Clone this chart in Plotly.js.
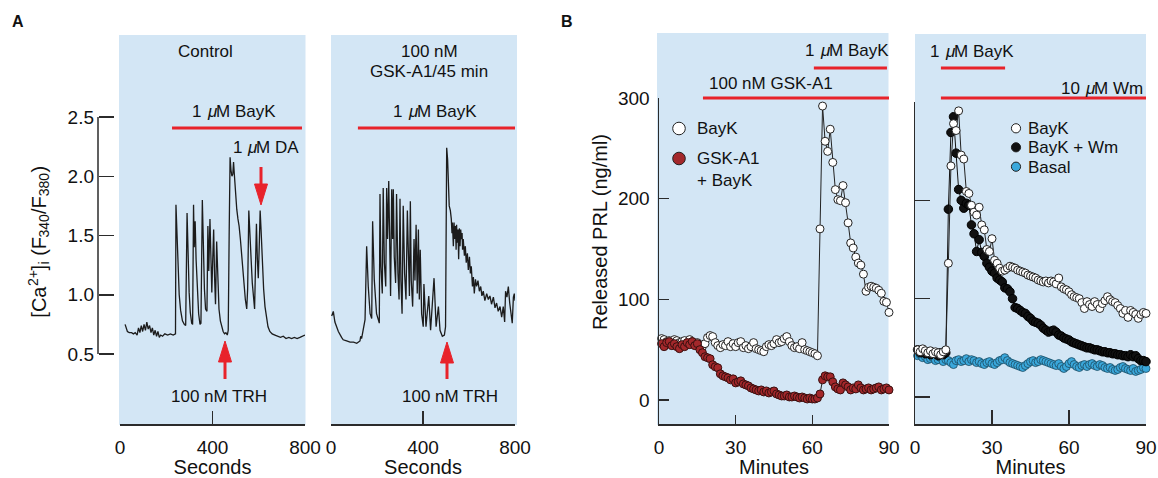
<!DOCTYPE html>
<html><head><meta charset="utf-8">
<script src="https://cdn.plot.ly/plotly-3.0.1.min.js"></script>
<style>html,body{margin:0;padding:0;background:#fff}#c{width:1158px;height:478px}</style>
</head><body><div id="c"></div>
<script>
// ---------- DATA ----------
// Panel A, Control: time (s) and [Ca2+]i ratio
const ctrlSec = [22,26,32,40,50,58,66,74,80,86,92,98,104,110,116,122,128,134,140,146,152,158,164,170,176,184,194,206,218,230,240,
242,246,250,256,262,270,278,284,290,294,299,304,310,314,318,321,325,329,334,340,346,350,356,360,365,370,
376,380,384,389,393,397,401,405,409,413,418,422,428,434,440,446,452,458,464,
468,472,476,480,484,488,491,495,500,505,510,515,521,528,535,542,548,
552,557,562,567,572,578,582,586,590,594,598,602,606,610,615,621,627,633,640,648,658,670,682,694,706,718,730,742,754,766,778,790,800];
const ctrlRatio = [0.75,0.72,0.69,0.68,0.68,0.67,0.68,0.66,0.72,0.68,0.74,0.69,0.75,0.70,0.77,0.71,0.74,0.68,0.72,0.66,0.70,0.65,0.69,0.64,0.66,0.65,0.67,0.66,0.67,0.66,0.67,
1.76,1.55,1.25,1.00,0.87,0.78,0.75,0.74,1.69,1.35,1.02,0.85,0.76,0.75,1.76,1.40,1.62,1.30,1.02,0.84,0.75,0.76,1.80,1.38,1.05,0.88,
0.86,1.58,1.20,1.64,1.25,1.02,1.30,1.55,1.15,0.92,1.45,1.12,0.88,0.78,0.72,0.69,0.67,0.68,0.66,
0.70,1.50,2.16,2.05,2.00,2.02,2.12,2.00,1.84,1.72,1.64,1.58,1.46,1.28,1.10,0.96,0.88,
1.05,1.71,1.55,1.30,1.10,0.95,0.88,1.25,1.60,1.30,1.14,1.40,1.71,1.55,1.30,1.05,0.90,0.80,0.73,0.69,0.67,0.66,0.65,0.64,0.65,0.63,0.64,0.63,0.64,0.63,0.64,0.65,0.66];

// Panel A, 100 nM GSK-A1/45 min
const gskSec = [3,10,17,32,46,53,68,83,98,112,126,129,133,139,148,
155,162,170,177,181,188,198,210,213,217,223,227,232,238,242,246,251,255,259,264,268,271,275,281,285,291,296,300,304,309,314,320,326,332,336,341,345,349,355,361,365,370,375,380,384,388,394,401,404,413,425,433,448,457,467,474,484,493,498,
503,507,512,514,519,523,526,528,532,535,538,541,544,546,549,552,555,558,561,564,567,570,572,575,580,584,588,593,597,602,606,610,615,619,623,628,633,639,645,651,656,662,669,677,684,691,698,706,713,720,727,735,742,749,755,759,765,771,777,783,788,793,797,800];
const gskRatio = [0.82,0.86,0.77,0.69,0.64,0.62,0.61,0.60,0.60,0.59,0.61,0.65,0.63,0.70,0.79,
1.41,1.07,0.84,0.80,1.62,1.13,0.84,0.76,1.85,1.24,1.01,1.90,1.27,1.07,1.90,1.47,1.96,1.38,0.99,1.89,1.47,1.89,1.32,1.10,1.85,1.18,0.96,1.81,1.12,0.84,1.75,1.18,0.96,1.71,1.24,0.99,1.79,1.12,0.90,1.47,1.12,1.59,1.01,1.55,0.96,1.38,0.84,0.73,1.09,0.73,0.99,0.70,1.14,0.73,0.90,0.70,0.65,0.66,0.73,
2.24,2.14,1.89,1.75,1.71,1.64,1.52,1.61,1.41,1.61,1.47,1.58,1.38,1.59,1.44,1.55,1.30,1.56,1.41,1.55,1.47,1.52,1.38,1.47,1.33,1.41,1.27,1.35,1.21,1.32,1.18,1.24,1.07,1.15,1.01,1.13,1.07,1.12,1.03,1.07,0.99,1.03,0.95,1.01,0.96,0.99,0.92,0.98,0.89,0.93,0.86,0.90,0.81,0.90,0.77,1.03,0.98,1.07,0.93,0.84,0.76,0.98,1.01,0.95];

// Panel B, left: released PRL (ng/ml) per minute
const minutesB = [1,2,3,4,5,6,7,8,9,10,11,12,13,14,15,16,17,18,19,20,21,22,23,24,25,26,27,28,29,30,31,32,33,34,35,36,37,38,39,40,41,42,43,44,45,46,47,48,49,50,51,52,53,54,55,56,57,58,59,60,61,62,63,64,65,66,67,68,69,70,71,72,73,74,75,76,77,78,79,80,81,82,83,84,85,86,87,88,89,90];
const baykL = [61,60,58,59,57,60,59,57,58,59,55,60,58,56,57,55,53,56,62,64,63,57,54,52,55,54,58,53,56,53,57,58,52,54,51,53,57,51,50,49,48,53,55,54,56,60,57,58,61,63,58,54,52,53,51,57,50,49,48,47,46,44,170,292,257,247,269,236,209,199,198,213,196,176,156,151,142,136,134,125,108,112,113,112,111,109,106,98,97,87];
const gskBaykL = [56,53,57,58,54,56,53,51,55,53,57,55,58,54,56,50,47,43,42,41,35,33,32,26,24,23,22,20,21,17,18,19,16,15,14,12,11,10,9,10,8,9,7,8,9,6,5,4,4,5,3,3,4,3,2,3,2,1,2,1,1,2,6,20,24,23,23,18,13,11,10,17,15,13,10,12,11,15,12,10,11,12,10,11,12,13,10,11,12,10];

// Panel B, right
const baykR = [48,46,49,47,45,47,44,46,45,43,46,48,136,235,278,271,291,246,242,209,207,195,188,185,193,175,170,150,148,161,139,136,131,128,129,131,133,132,131,129,128,127,126,124,123,122,121,119,118,117,118,116,118,117,115,121,112,110,109,107,104,102,101,100,96,90,97,94,92,97,94,90,95,98,102,99,97,96,93,90,85,88,81,88,86,84,80,84,86,85];
const baykWmR = [48,45,47,44,46,43,45,44,42,45,43,45,191,269,285,248,211,200,192,197,195,175,166,148,160,147,143,136,132,128,126,121,119,117,111,110,107,100,91,90,88,86,85,82,80,77,76,75,73,70,68,66,67,68,66,63,62,60,59,58,56,55,54,53,52,51,50,50,49,48,48,47,46,46,45,45,44,44,43,43,42,42,41,43,41,42,39,37,37,36];
const basalR = [42,43,40,41,38,39,40,37,38,40,36,38,37,35,33,37,38,36,37,39,36,38,37,35,36,34,33,35,36,34,33,35,37,38,40,37,35,34,33,32,31,30,32,34,36,37,35,36,38,37,36,35,34,33,32,34,31,29,31,34,36,33,31,30,32,33,31,33,34,32,31,33,32,30,29,30,28,27,28,30,31,29,28,27,29,26,27,28,30,29];

const ticksSec = [0,400,800];
const ticksRatio = [0.5,1.0,1.5,2.0,2.5];
const ticksMin = [0,30,60,90];
const ticksPRL = [0,100,200,300];

// ---------- LAYOUT HELPERS ----------
const W = 1158, H = 478;
const X = p => p / W;
const Y = p => 1 - p / H;
const FONT = 'Liberation Sans, Arial, Helvetica, sans-serif';
const INK = '#2b2b2b';
const BLUE_BG = '#d3e6f5';
const RED = '#e8232b';

const traceA = {color:'#1c1c1c', width:1.3};
const data = [
  {x: ctrlSec, y: ctrlRatio, xaxis:'x', yaxis:'y', mode:'lines', line: traceA, hoverinfo:'skip'},
  {x: gskSec, y: gskRatio, xaxis:'x2', yaxis:'y2', mode:'lines', line: traceA, hoverinfo:'skip'},
  {x: minutesB, y: baykL, xaxis:'x3', yaxis:'y3', mode:'lines+markers', cliponaxis:false,
   line:{color:'#222', width:1}, marker:{size:8, color:'#ffffff', line:{color:'#222', width:1}}},
  {x: minutesB, y: gskBaykL, xaxis:'x3', yaxis:'y3', mode:'lines+markers', cliponaxis:false,
   line:{color:'#222', width:1}, marker:{size:8, color:'#a3282b', line:{color:'#3a1010', width:1}}},
  {x: minutesB, y: basalR, xaxis:'x4', yaxis:'y4', mode:'lines+markers', cliponaxis:false,
   line:{color:'#222', width:0.8}, marker:{size:8, color:'#3aa8dc', line:{color:'#1d4a60', width:0.8}}},
  {x: minutesB, y: baykWmR, xaxis:'x4', yaxis:'y4', mode:'lines+markers', cliponaxis:false,
   line:{color:'#111', width:1}, marker:{size:8.5, color:'#111111', line:{color:'#000', width:1}}},
  {x: minutesB, y: baykR, xaxis:'x4', yaxis:'y4', mode:'lines+markers', cliponaxis:false,
   line:{color:'#222', width:1}, marker:{size:8, color:'#ffffff', line:{color:'#222', width:1}}}
];

const axBase = {
  showgrid:false, zeroline:false, ticks:'inside', tickcolor:INK, tickwidth:1.5,
  linecolor:INK, linewidth:1.5, tickfont:{family:FONT, size:19, color:'#111'}, fixedrange:true
};
const xTitle = t => ({text:t, font:{family:FONT, size:20, color:'#111'}, standoff:2});

const yA = [0.5 - 70/118.5, 0.5 + 319/118.5];

const layout = {
  width: W, height: H, margin:{l:0,r:0,t:0,b:0}, showlegend:false,
  paper_bgcolor:'#ffffff', plot_bgcolor:'rgba(0,0,0,0)', font:{family:FONT, color:'#111'},
  xaxis: Object.assign({}, axBase, {domain:[X(120), X(305)], range:[0,800], anchor:'y', tickvals:ticksSec,
          showline:true, ticklen:13, ticklabelstandoff:6, title:xTitle('Seconds')}),
  yaxis: Object.assign({}, axBase, {domain:[Y(424), Y(35)], range:yA, anchor:'free', position:X(98),
          tickvals:ticksRatio, ticktext:ticksRatio.map(v=>v.toFixed(1)), showline:false, ticklen:15, ticklabelstandoff:4}),
  xaxis2: Object.assign({}, axBase, {domain:[X(331), X(515)], range:[0,800], anchor:'y2', tickvals:ticksSec,
          showline:true, ticklen:13, ticklabelstandoff:6, title:xTitle('Seconds')}),
  yaxis2: {domain:[Y(424), Y(35)], range:yA, anchor:'x2', visible:false, fixedrange:true},
  xaxis3: Object.assign({}, axBase, {domain:[X(659), X(889)], range:[0,90], anchor:'y3', tickvals:ticksMin,
          showline:true, ticklen:9, ticklabelstandoff:6, title:xTitle('Minutes')}),
  yaxis3: Object.assign({}, axBase, {domain:[Y(424), Y(98)], range:[-24/1.00667, 300], anchor:'x3',
          tickvals:ticksPRL, showline:true, ticklen:10, ticklabelstandoff:4}),
  xaxis4: Object.assign({}, axBase, {domain:[X(915), X(1146)], range:[0,90], anchor:'y4', tickvals:ticksMin,
          showline:true, ticklen:14, ticklabelstandoff:6, title:xTitle('Minutes')}),
  yaxis4: Object.assign({}, axBase, {domain:[Y(424), Y(102)], range:[-27/0.98333, 300], anchor:'x4',
          tickvals:ticksPRL, showticklabels:false, showline:true, ticklen:15}),
  shapes: [],
  annotations: []
};

// blue panel backgrounds
[[119,35,305.5,425],[331,35,517,425],[657,33,888.5,425],[915,34,1146,425]].forEach(b => {
  layout.shapes.push({type:'rect', xref:'paper', yref:'paper', x0:X(b[0]), x1:X(b[2]), y0:Y(b[3]), y1:Y(b[1]),
    fillcolor:BLUE_BG, line:{width:0}, layer:'below'});
});
// A y-axis line (0.5 .. 2.5)
layout.shapes.push({type:'line', xref:'paper', yref:'y', x0:X(98), x1:X(98), y0:0.5, y1:2.5, line:{color:INK, width:1.5}});

// red treatment bars
const bar = (xref, x0, x1, py) => ({type:'line', xref:xref, yref:'paper', x0:x0, x1:x1, y0:Y(py), y1:Y(py), line:{color:RED, width:3}});
layout.shapes.push(bar('x', 225, 787, 128));
layout.shapes.push(bar('x2', 117, 805, 128));
layout.shapes.push(bar('x3', 60.6, 89.2, 68));
layout.shapes.push(bar('x3', 17.2, 92.3, 98));
layout.shapes.push(bar('x4', 10.1, 35.1, 68));
layout.shapes.push(bar('x4', 10.1, 90, 98));

// red arrows (pixel geometry -> paper path)
function arrow(cx, tip, tail, up){
  const hl = 21, hw = 6.5;
  const base = up ? tip + hl : tip - hl;
  layout.shapes.push({type:'line', xref:'paper', yref:'paper', x0:X(cx), x1:X(cx), y0:Y(base), y1:Y(tail), line:{color:RED, width:3}});
  layout.shapes.push({type:'path', xref:'paper', yref:'paper',
    path:`M ${X(cx-hw)},${Y(base)} L ${X(cx+hw)},${Y(base)} L ${X(cx)},${Y(tip)} Z`, fillcolor:RED, line:{color:RED, width:1}});
}
arrow(261, 205, 167, false);
arrow(225, 341, 379, true);
arrow(447, 342, 379, true);

// legend circles
function dot(cx, cy, r, fill){
  layout.shapes.push({type:'circle', xref:'paper', yref:'paper', x0:X(cx-r), x1:X(cx+r), y0:Y(cy+r), y1:Y(cy-r),
    fillcolor:fill, line:{color:'#222', width:1}});
}
dot(679, 128.5, 6.3, '#ffffff');
dot(679, 158.5, 6.3, '#a3282b');
dot(1016, 128.3, 4.6, '#ffffff');
dot(1016, 147.3, 4.6, '#111111');
dot(1016, 166.7, 4.6, '#3aa8dc');

// text
const FS = 17;
function txt(s, px, py, opts){
  layout.annotations.push(Object.assign({text:s, xref:'paper', yref:'paper', x:X(px), y:Y(py), showarrow:false,
    xanchor:'center', yanchor:'middle', font:{family:FONT, size:FS, color:'#111'}}, opts||{}));
}
// measure text widths with the same installed font
const ctx = document.createElement('canvas').getContext('2d');
function tw(s, italic, size){ ctx.font = (italic ? 'italic ' : '') + (size||FS) + 'px "Liberation Sans", Arial, sans-serif'; return ctx.measureText(s).width; }
// "<pre> μ<post>" with an italic μ, as three plain text pieces
function muText(pre, post, px, py, anchor){
  const w1 = tw(pre + ' '), w2 = tw('μ', true), w3 = tw(post);
  const total = w1 + w2 + w3;
  let x0 = px;
  if (anchor === 'center') x0 = px - total / 2;
  else if (anchor === 'right') x0 = px - total;
  txt(pre, x0, py, {xanchor:'left'});
  txt('μ', x0 + w1, py, {xanchor:'left', font:{family:FONT, size:FS, color:'#111', style:'italic'}});
  txt(post, x0 + w1 + w2, py, {xanchor:'left'});
}
txt('Control', 205, 52);
muText('1', 'M BayK', 232, 112, 'center');
muText('1', 'M DA', 264, 147, 'center');
txt('100 nM TRH', 219, 396);
txt('100 nM', 429, 52);
txt('GSK-A1/45 min', 429, 72);
muText('1', 'M BayK', 433, 112, 'center');
txt('100 nM TRH', 450, 396);
muText('1', 'M BayK', 845, 50, 'center');
txt('100 nM GSK-A1', 771, 83);
txt('BayK', 695, 128, {xanchor:'left'});
txt('GSK-A1', 695, 158, {xanchor:'left'});
txt('+ BayK', 695, 180, {xanchor:'left'});
muText('1', 'M BayK', 970, 52, 'center');
muText('10', 'M Wm', 1141, 88, 'right');
txt('BayK', 1026, 128, {xanchor:'left'});
txt('BayK + Wm', 1026, 147.5, {xanchor:'left'});
txt('Basal', 1026, 167, {xanchor:'left'});
txt('A', 18, 22, {font:{family:FONT, size:16, color:'#111', weight:'bold'}});
txt('B', 567, 22, {font:{family:FONT, size:16, color:'#111', weight:'bold'}});

// rotated y label "[Ca2+]i (F340/F380)" built from plain pieces (sup/sub as smaller offset text)
(function(){
  const big = 20, small = 14, cx = 39, cy = 243;
  const pieces = [['[Ca','n'],['2+','sup'],[']','n'],['i','sub'],[' ','gap'],['(F','n'],['340','sub'],['/F','n'],['380','sub'],[')','n']];
  const widths = pieces.map(p => (p[1] === 'n' || p[1] === 'gap') ? tw(p[0], false, big) : tw(p[0], false, small));
  const total = widths.reduce((a,b)=>a+b, 0);
  let pos = cy + total / 2; // bottom of the rotated label (pixel y)
  pieces.forEach((p, i) => {
    if (p[1] !== 'gap') {
      const shift = p[1] === 'sup' ? -6.5 : (p[1] === 'sub' ? 5 : 0);
      const size = p[1] === 'n' ? big : small;
      txt(p[0], cx + shift, pos + 1, {textangle:-90, yanchor:'bottom', xanchor:'center', font:{family:FONT, size:size, color:'#111'}});
    }
    pos -= widths[i];
  });
})();
txt('Released PRL (ng/ml)', 600, 232, {textangle:-90, font:{family:FONT, size:20, color:'#111'}});

Plotly.newPlot('c', data, layout, {staticPlot:true, displayModeBar:false});
</script>
</body></html>
